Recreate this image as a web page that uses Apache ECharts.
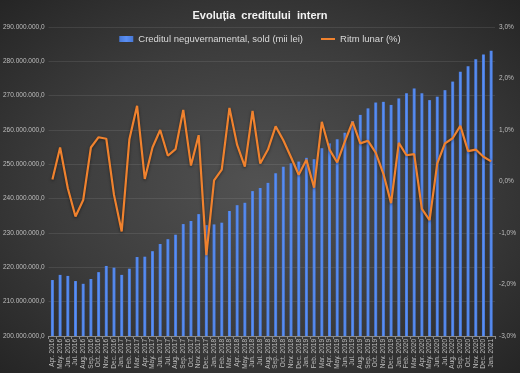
<!DOCTYPE html>
<html>
<head>
<meta charset="utf-8">
<script src="https://cdn.jsdelivr.net/npm/echarts@6/dist/echarts.min.js"></script>
<style>
html,body{margin:0;padding:0;background:#2a2a2a;}
#c{width:520px;height:373px;background:radial-gradient(ellipse at 50% 50%, #525252 0%, #3c3c3c 55%, #252525 100%);}
</style>
</head>
<body>
<div id="c"></div>
<script>
const categories = [
 "Apr. 2016","May. 2016","Jun. 2016","Jul. 2016","Aug. 2016","Sep. 2016","Oct. 2016","Nov. 2016","Dec. 2016",
 "Jan. 2017","Feb. 2017","Mar. 2017","Apr. 2017","May. 2017","Jun. 2017","Jul. 2017","Aug. 2017","Sep. 2017","Oct. 2017","Nov. 2017","Dec. 2017",
 "Jan. 2018","Feb. 2018","Mar. 2018","Apr. 2018","May. 2018","Jun. 2018","Jul. 2018","Aug. 2018","Sep. 2018","Oct. 2018","Nov. 2018","Dec. 2018",
 "Jan. 2019","Feb. 2019","Mar. 2019","Apr. 2019","May. 2019","Jun. 2019","Jul. 2019","Aug. 2019","Sep. 2019","Oct. 2019","Nov. 2019","Dec. 2019",
 "Jan. 2020","Feb. 2020","Mar. 2020","Apr. 2020","May. 2020","Jun. 2020","Jul. 2020","Aug. 2020","Sep. 2020","Oct. 2020","Nov. 2020","Dec. 2020",
 "Jan. 2021"
];
const creditSold = [
 216300000,217800000,217500000,216000000,215200000,216600000,218600000,220400000,219900000,
 217800000,219600000,223000000,223100000,224700000,226800000,228200000,229500000,232600000,233500000,235500000,232300000,
 232500000,233000000,236400000,238100000,238800000,242200000,243100000,244600000,247400000,249300000,250300000,250800000,
 251900000,251500000,254700000,256100000,257300000,259200000,262600000,264400000,266300000,268000000,268200000,267300000,
 269200000,270700000,272100000,270700000,268700000,269700000,271600000,274100000,277000000,278600000,280600000,282000000,
 283100000
];
const ritmLunar = [
 0.04,0.66,-0.13,-0.68,-0.36,0.66,0.86,0.83,-0.26,
 -0.97,0.82,1.47,0.05,0.66,1.00,0.50,0.63,1.39,0.31,0.90,-1.43,
 0.02,0.23,1.43,0.71,0.29,1.37,0.35,0.62,1.07,0.80,0.47,0.13,
 0.42,-0.12,1.16,0.62,0.37,0.78,1.16,0.74,0.79,0.56,0.15,-0.42,
 0.75,0.51,0.53,-0.53,-0.75,0.35,0.74,0.84,1.08,0.59,0.62,0.48,
 0.39
];
const leftTicks = {min:200000000, max:290000000, step:10000000};
const rightTicks = {min:-3, max:3, step:1};

function fmtThousands(v){
  const s = Math.round(v).toString().replace(/\B(?=(\d{3})+(?!\d))/g, ".");
  return s + ",0";
}
function fmtPct(v){ return v.toFixed(1).replace(".", ",") + "%"; }

const chart = echarts.init(document.getElementById('c'), null, {renderer:'canvas'});
chart.setOption({
  backgroundColor: 'transparent',
  animation: false,
  textStyle: {fontFamily: 'Liberation Sans'},
  title: {
    text: 'Evoluția  creditului  intern',
    left: 'center', top: 5,
    textStyle: {color:'#f2f2f2', fontSize:11, fontWeight:'bold', fontFamily:'Liberation Sans'}
  },
  legend: {
    top: 29, left: 'center',
    itemWidth: 14, itemHeight: 6, itemGap: 18,
    textStyle: {color:'#d9d9d9', fontSize:9.5, fontFamily:'Liberation Sans'},
    data: [
      {name:'Creditul neguvernamental, sold (mii lei)', icon:'rect'},
      {name:'Ritm lunar (%)', icon:'path://M0,0L14,0L14,2L0,2Z'}
    ]
  },
  grid: {left: 48.5, right: 25, top: 27, bottom: 37, containLabel: false},
  xAxis: {
    type: 'category', data: categories, boundaryGap: true,
    axisLine: {show:true, onZero:false, lineStyle:{color:'#8a8a8a', width:1}},
    axisTick: {show:true, interval:0, length:3, lineStyle:{color:'#8a8a8a'}},
    axisLabel: {interval:0, rotate:90, color:'#bfbfbf', fontSize:6.5, margin:3, fontFamily:'Liberation Sans'}
  },
  yAxis: [
    {
      type:'value', min:leftTicks.min, max:leftTicks.max, interval:leftTicks.step,
      axisLine:{show:false}, axisTick:{show:false},
      axisLabel:{color:'#bfbfbf', fontSize:6.5, margin:4, formatter: fmtThousands, fontFamily:'Liberation Sans'},
      splitLine:{show:true, lineStyle:{color:'rgba(255,255,255,0.09)', width:1}}
    },
    {
      type:'value', min:rightTicks.min, max:rightTicks.max, interval:rightTicks.step,
      axisLine:{show:false}, axisTick:{show:false},
      axisLabel:{color:'#bfbfbf', fontSize:6.5, margin:4, formatter: fmtPct, fontFamily:'Liberation Sans'},
      splitLine:{show:false}
    }
  ],
  series: [
    {
      name:'Creditul neguvernamental, sold (mii lei)', type:'bar', yAxisIndex:0,
      data: creditSold, barWidth: 3,
      itemStyle:{color: new echarts.graphic.LinearGradient(0,0,1,0,[{offset:0,color:'#4778d6'},{offset:0.5,color:'#5a8ff5'},{offset:1,color:'#4778d6'}])}
    },
    {
      name:'Ritm lunar (%)', type:'line', yAxisIndex:1,
      data: ritmLunar, symbol:'none', smooth:false,
      lineStyle:{color:'#f0822e', width:2.2, shadowColor:'rgba(0,0,0,0.5)', shadowBlur:3, shadowOffsetY:1},
      itemStyle:{color:'#f0822e'}
    }
  ]
});
</script>
</body>
</html>
